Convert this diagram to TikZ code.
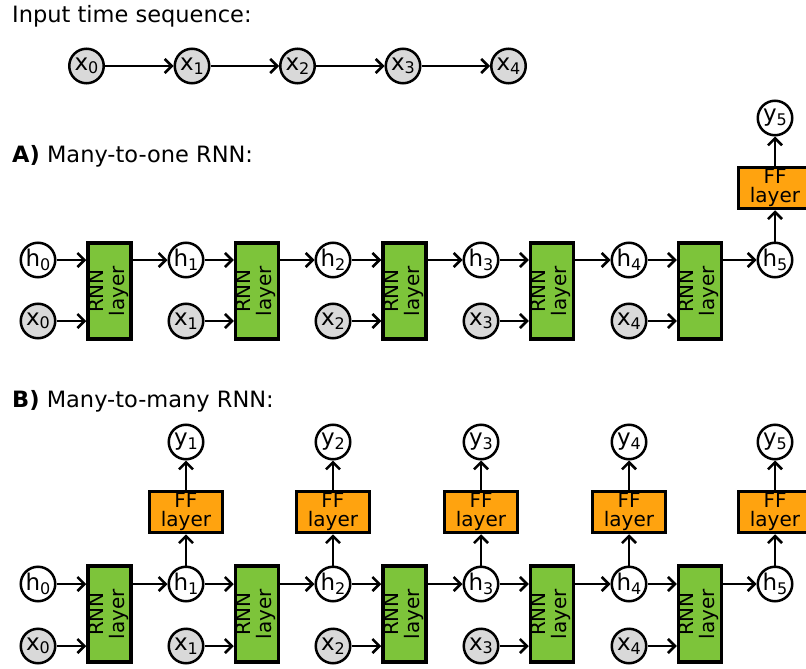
\documentclass[tikz,border=0pt]{standalone}
\usepackage{fontspec}
\setmainfont{DejaVu Sans}
\usetikzlibrary{arrows.meta}
\definecolor{rnngreen}{RGB}{125,196,58}
\definecolor{ffgold}{RGB}{255,163,15}
\definecolor{inpgray}{RGB}{217,217,217}
% lowered, smaller index after a state letter
\newcommand\lowsub[1]{\raisebox{-3.5pt}{\fontsize{16pt}{16pt}\selectfont #1}}
\newcommand\vlabel[1]{\rotatebox{90}{\begin{tabular}{@{}c@{}}#1\end{tabular}}}

\begin{document}
\begin{tikzpicture}[x=1pt,y=-1pt,
  state/.style={circle, draw, line width=2.5pt, fill=white, minimum size=34.5pt,
    inner sep=0pt, font=\fontsize{23pt}{23pt}\selectfont},
  inp/.style={state, fill=inpgray},
  rnnbox/.style={draw, line width=3.5pt, fill=rnngreen, minimum width=43pt,
    minimum height=96pt, inner sep=0pt, font=\fontsize{20pt}{19pt}\selectfont},
  ffbox/.style={draw, line width=3.5pt, fill=ffgold, minimum width=73pt,
    minimum height=41pt, inner sep=0pt, align=center,
    font=\fontsize{20pt}{18.5pt}\selectfont},
  heading/.style={anchor=base west, inner sep=0pt, font=\fontsize{22.5pt}{26pt}\selectfont},
  link/.style={line width=2.5pt, -{Straight Barb[length=7pt,width=14pt]}}]

\clip (0,0) rectangle (806,669);

% ---------- input time sequence ----------
\node[heading] (tin) at (12,23) {Input time sequence:};
\foreach \i/\xx in {0/86.5,1/192,2/297.5,3/403,4/508.5}
  \node[inp] (s\i) at (\xx,66) {x\lowsub{\i}};
\foreach \i/\j in {0/1,1/2,2/3,3/4}
  \draw[link] (s\i) -- (s\j);

% ---------- A) many-to-one ----------
\node[heading] (ta) at (12,162) {\textbf{A)} Many-to-one RNN:};
\foreach \i/\xx in {0/38,1/186,2/333,3/481,4/629,5/775}
  \node[state] (ah\i) at (\xx,260) {h\lowsub{\i}};
\foreach \i/\xx in {0/38,1/186,2/333,3/481,4/629}
  \node[inp] (ax\i) at (\xx,321) {x\lowsub{\i}};
\foreach \i/\xx in {0/109.5,1/257,2/404.5,3/552,4/700}
  \node[rnnbox] (ar\i) at (\xx,291) {\vlabel{RNN\\layer}};
\foreach \i/\j in {0/1,1/2,2/3,3/4,4/5}{
  \draw[link] (ah\i) -- (ah\i -| ar\i.west);
  \draw[link] (ax\i) -- (ax\i -| ar\i.west);
  \draw[link] (ar\i.east |- ah\j) -- (ah\j);
}
\node[ffbox] (af5) at (775,188) {FF\\layer};
\node[state] (ay5) at (775,118) {y\lowsub{5}};
\draw[link] (ah5) -- (af5);
\draw[link] (af5) -- (ay5);

% ---------- B) many-to-many ----------
\node[heading] (tb) at (12,407) {\textbf{B)} Many-to-many RNN:};
\foreach \i/\xx in {0/38,1/186,2/333,3/481,4/629,5/775}
  \node[state] (bh\i) at (\xx,584) {h\lowsub{\i}};
\foreach \i/\xx in {0/38,1/186,2/333,3/481,4/629}
  \node[inp] (bx\i) at (\xx,646) {x\lowsub{\i}};
\foreach \i/\xx in {0/109.5,1/257,2/404.5,3/552,4/700}
  \node[rnnbox] (br\i) at (\xx,614) {\vlabel{RNN\\layer}};
\foreach \i/\j in {0/1,1/2,2/3,3/4,4/5}{
  \draw[link] (bh\i) -- (bh\i -| br\i.west);
  \draw[link] (bx\i) -- (bx\i -| br\i.west);
  \draw[link] (br\i.east |- bh\j) -- (bh\j);
}
\foreach \i/\xx in {1/186,2/333,3/481,4/629,5/775}{
  \node[ffbox] (bf\i) at (\xx,512) {FF\\layer};
  \node[state] (by\i) at (\xx,442) {y\lowsub{\i}};
  \draw[link] (bh\i) -- (bf\i);
  \draw[link] (bf\i) -- (by\i);
}
\end{tikzpicture}
\end{document}
